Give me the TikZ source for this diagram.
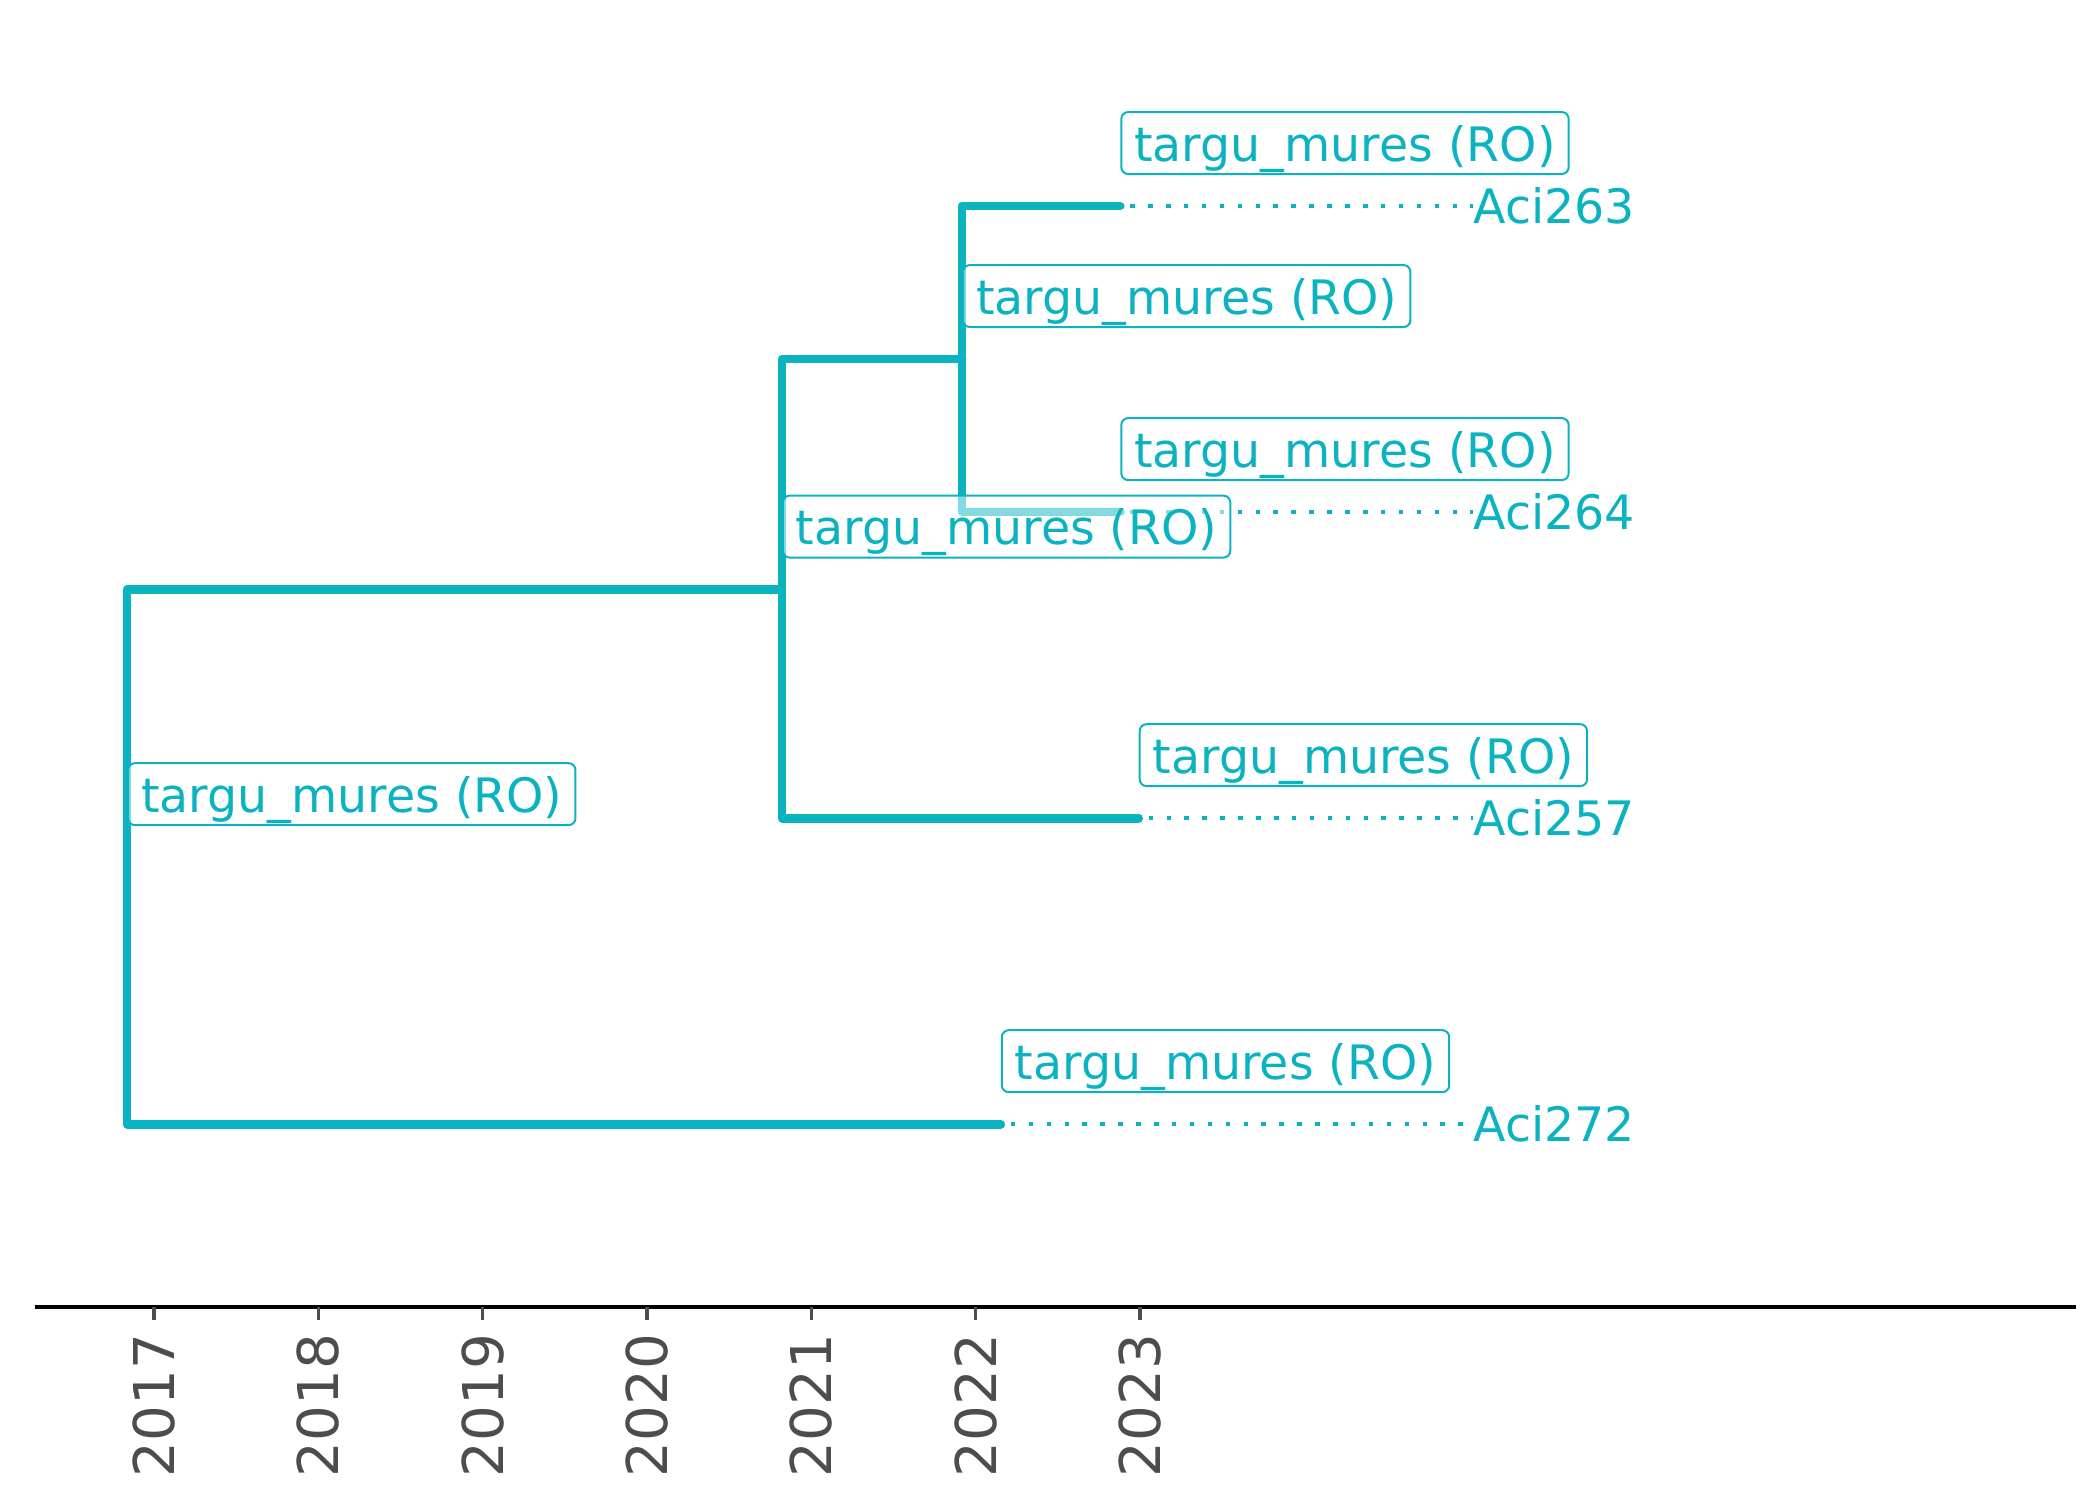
\documentclass[tikz,border=0pt]{standalone}
\usepackage{fontspec}
\setmainfont{DejaVu Sans}
\definecolor{treeteal}{HTML}{0BB3C1}
\definecolor{axisgray}{HTML}{4D4D4D}
\tikzset{
	branch/.style={treeteal, line width=0.087cm, line cap=round, line join=round},
	leafdots/.style={treeteal, line width=0.045cm, dash pattern=on 0.045cm off 0.134cm, shorten <=0.1cm},
	locbox/.style={draw=treeteal, line width=0.02cm, rounded corners=0.07cm, fill=white, fill opacity=0.5, text opacity=1, text=treeteal, anchor=south west, inner xsep=0.13cm, inner ysep=0pt, text height=0.49cm, text depth=0.13cm, font=\fontsize{13.5}{16}\selectfont},
	tiplabel/.style={text=treeteal, anchor=west, inner sep=0pt, font=\fontsize{13.5}{16}\selectfont},
	yearlabel/.style={text=axisgray, rotate=90, anchor=east, inner sep=0pt, font=\fontsize{16}{19}\selectfont}
}

\begin{document}
\begin{tikzpicture}[x=1.643cm, y=1cm]
		%%%%% START %%%%%
		\useasboundingbox (-0.937, -1.93) rectangle (11.842, 13.07);
		
		\coordinate (root) at (-0.164, 4.50);
		\coordinate (n2) at (3.821, 7.175);
		\coordinate (n3) at (4.917, 9.48);
		\coordinate (t263) at (5.880, 11.01);
		\coordinate (t264) at (5.880, 7.95);
		\coordinate (t257) at (5.992, 4.89);
		\coordinate (t272) at (5.153, 1.83);
		
		\draw[branch] (root) |- (n2);
		\draw[branch] (root) |- (t272);
		\draw[branch] (n2) |- (n3);
		\draw[branch] (n2) |- (t257);
		\draw[branch] (n3) |- (t263);
		\draw[branch] (n3) |- (t264);
		
		\node[tiplabel] (aci263) at (8.026, 11.01) {Aci263};
		\node[tiplabel] (aci264) at (8.026, 7.95) {Aci264};
		\node[tiplabel] (aci257) at (8.026, 4.89) {Aci257};
		\node[tiplabel] (aci272) at (8.026, 1.83) {Aci272};
		
		\draw[leafdots] (t263) -- (aci263.west);
		\draw[leafdots] (t264) -- (aci264.west);
		\draw[leafdots] (t257) -- (aci257.west);
		\draw[leafdots] (t272) -- (aci272.west);
		
		\node[locbox] (loc263) at ([yshift=0.31cm]t263) {targu\_mures (RO)};
		\node[locbox] (locn3) at ([yshift=0.31cm]n3) {targu\_mures (RO)};
		\node[locbox] (loc264) at ([yshift=0.31cm]t264) {targu\_mures (RO)};
		\node[locbox] (locn2) at ([yshift=0.31cm]n2) {targu\_mures (RO)};
		\node[locbox] (loc257) at ([yshift=0.31cm]t257) {targu\_mures (RO)};
		\node[locbox] (locroot) at ([yshift=0.31cm]root) {targu\_mures (RO)};
		\node[locbox] (loc272) at ([yshift=0.31cm]t272) {targu\_mures (RO)};
		
		\draw[line width=0.043cm] (-0.727, 0) -- (11.696, 0);
		\foreach \yr [count=\i from 0] in {2017,...,2023} {
			\draw[axisgray, line width=0.035cm] (\i, 0) -- (\i, -0.13);
			\node[yearlabel] (yr\yr) at (\i, -0.26) {\yr};
		}
		%%%%% END %%%%%
\end{tikzpicture}
\end{document}
